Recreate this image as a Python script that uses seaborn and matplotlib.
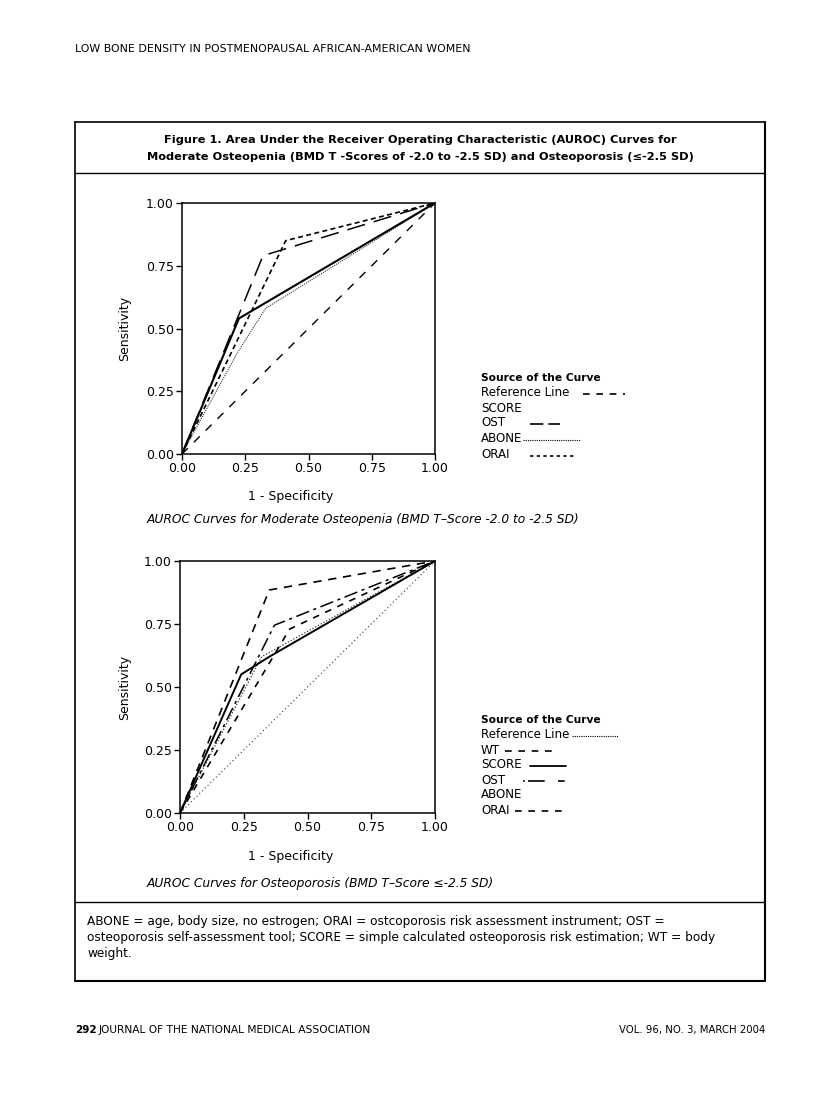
import matplotlib
matplotlib.use("Agg")
import matplotlib.pyplot as plt
from matplotlib.lines import Line2D
import seaborn as sns

# --- data (1 - specificity, sensitivity) ---
ticks = [0.0, 0.25, 0.5, 0.75, 1.0]
tick_labels = ["0.00", "0.25", "0.50", "0.75", "1.00"]

# panel A: moderate osteopenia
a_ref_x = [0.0, 1.0]
a_ref_y = [0.0, 1.0]
a_score_x = [0.0, 0.225, 1.0]
a_score_y = [0.0, 0.54, 1.0]
a_ost_x = [0.0, 0.32, 1.0]
a_ost_y = [0.0, 0.79, 1.0]
a_abone_x = [0.0, 0.217, 0.33, 1.0]
a_abone_y = [0.0, 0.40, 0.58, 1.0]
a_orai_x = [0.0, 0.41, 1.0]
a_orai_y = [0.0, 0.85, 1.0]

# panel B: osteoporosis
b_ref_x = [0.0, 1.0]
b_ref_y = [0.0, 1.0]
b_wt_x = [0.0, 0.35, 1.0]
b_wt_y = [0.0, 0.885, 1.0]
b_score_x = [0.0, 0.24, 0.35, 1.0]
b_score_y = [0.0, 0.55, 0.62, 1.0]
b_ost_x = [0.0, 0.37, 1.0]
b_ost_y = [0.0, 0.745, 1.0]
b_abone_x = [0.0, 0.32, 1.0]
b_abone_y = [0.0, 0.62, 1.0]
b_orai_x = [0.0, 0.43, 1.0]
b_orai_y = [0.0, 0.73, 1.0]

sns.set_theme(style="white")
plt.rcParams["font.family"] = ["DejaVu Sans"]
plt.rcParams["text.color"] = "black"
plt.rcParams["axes.labelcolor"] = "black"

W, H = 816, 1103
fig = plt.figure(figsize=(W / 100, H / 100), dpi=100)
fig.patch.set_facecolor("white")


def fx(x):
    return x / W


def fy(y):
    return 1 - y / H


def hline(x0, x1, y, lw=1.0, **kw):
    fig.add_artist(Line2D([fx(x0), fx(x1)], [fy(y), fy(y)], color="black", lw=lw, **kw))


def vline(x, y0, y1, lw=1.0):
    fig.add_artist(Line2D([fx(x), fx(x)], [fy(y0), fy(y1)], color="black", lw=lw))


def curve(ax, xs, ys, ls, lw, color="black"):
    sns.lineplot(x=xs, y=ys, ax=ax, color=color, lw=lw, linestyle=ls,
                 sort=False, estimator=None)


def style_axes(ax, xlab_pos, ylab_pos):
    ax.set_xlim(0, 1)
    ax.set_ylim(0, 1)
    ax.set_xticks(ticks)
    ax.set_yticks(ticks)
    ax.set_xticklabels(tick_labels)
    ax.set_yticklabels(tick_labels)
    ax.tick_params(direction="out", length=4, width=1, colors="black",
                   labelsize=9, pad=2, left=True, bottom=True)
    for s in ax.spines.values():
        s.set_visible(True)
        s.set_color("black")
        s.set_linewidth(1.1)
    ax.set_xlabel("1 - Specificity", fontsize=9)
    ax.set_ylabel("Sensitivity", fontsize=9)
    ax.xaxis.set_label_coords(xlab_pos, -0.145)
    ax.yaxis.set_label_coords(ylab_pos, 0.5)
    ax.set_facecolor("white")


# page header / frame
fig.text(fx(75), fy(49), "LOW BONE DENSITY IN POSTMENOPAUSAL AFRICAN-AMERICAN WOMEN",
         fontsize=7.9, va="center", ha="left")
hline(75, 765, 122, lw=1.2)
hline(75, 765, 173, lw=1.0)
hline(75, 765, 902, lw=1.0)
hline(75, 765, 981, lw=1.5)
vline(75, 122, 981, lw=1.2)
vline(765, 122, 981, lw=1.5)

fig.text(fx(420), fy(140),
         "Figure 1. Area Under the Receiver Operating Characteristic (AUROC) Curves for",
         fontsize=8.2, fontweight="bold", ha="center", va="center")
fig.text(fx(420), fy(157),
         "Moderate Osteopenia (BMD T -Scores of -2.0 to -2.5 SD) and Osteoporosis (\u2264-2.5 SD)",
         fontsize=8.2, fontweight="bold", ha="center", va="center")

# ---- panel A ----
axA = fig.add_axes([fx(182), fy(454), 253 / W, 251 / H])
curve(axA, a_ref_x, a_ref_y, (0, (6, 6)), 1.0)
curve(axA, a_abone_x, a_abone_y, (0, (1, 1)), 0.8, color="#333333")
curve(axA, a_score_x, a_score_y, "-", 1.5)
curve(axA, a_ost_x, a_ost_y, (0, (12, 6)), 1.1)
curve(axA, a_orai_x, a_orai_y, (0, (3, 2)), 1.2)
style_axes(axA, 0.43, -0.20)
fig.text(fx(147), fy(520),
         "AUROC Curves for Moderate Osteopenia (BMD T\u2013Score -2.0 to -2.5 SD)",
         fontsize=8.8, style="italic", ha="left", va="center")

fig.text(fx(481), fy(378), "Source of the Curve", fontsize=7.7, fontweight="bold", va="center")
for lab, yy in zip(["Reference Line", "SCORE", "OST", "ABONE", "ORAI"], [393, 408, 423, 439, 455]):
    fig.text(fx(481), fy(yy), lab, fontsize=8.6, va="center")
hline(583, 625, 394, lw=1.2, linestyle=(0, (4, 4)))
hline(530, 560, 424, lw=1.2, linestyle=(0, (8, 3)))
hline(523, 580, 440, lw=0.8, linestyle=(0, (1, 1)))
hline(530, 575, 456, lw=1.2, linestyle=(0, (2, 2)))

# ---- panel B ----
axB = fig.add_axes([fx(180), fy(813), 255 / W, 252 / H])
curve(axB, b_ref_x, b_ref_y, (0, (1, 2.5)), 0.8, color="#333333")
curve(axB, b_abone_x, b_abone_y, (0, (1, 1.5)), 0.9, color="#333333")
curve(axB, b_score_x, b_score_y, "-", 1.4)
curve(axB, b_ost_x, b_ost_y, (0, (9, 3, 2, 3)), 1.1)
curve(axB, b_wt_x, b_wt_y, (0, (5, 4)), 1.2)
curve(axB, b_orai_x, b_orai_y, (0, (4, 4)), 1.2)
style_axes(axB, 0.435, -0.19)
fig.text(fx(147), fy(883),
         "AUROC Curves for Osteoporosis (BMD T\u2013Score \u2264-2.5 SD)",
         fontsize=8.8, style="italic", ha="left", va="center")

fig.text(fx(481), fy(720), "Source of the Curve", fontsize=7.7, fontweight="bold", va="center")
for lab, yy in zip(["Reference Line", "WT", "SCORE", "OST", "ABONE", "ORAI"],
                   [735, 750, 765, 780, 795, 810]):
    fig.text(fx(481), fy(yy), lab, fontsize=8.6, va="center")
hline(572, 618, 736, lw=0.8, linestyle=(0, (1, 1)))
hline(505, 552, 751, lw=1.2, linestyle=(0, (4, 4)))
hline(530, 566, 766, lw=1.3)
hline(523, 566, 781, lw=1.2, linestyle=(0, (1, 2, 10, 8, 4, 2, 4, 2)))
hline(515, 568, 811, lw=1.2, linestyle=(0, (4, 4)))

# footnote
for line, yy in zip([
        "ABONE = age, body size, no estrogen; ORAI = ostcoporosis risk assessment instrument; OST =",
        "osteoporosis self-assessment tool; SCORE = simple calculated osteoporosis risk estimation; WT = body",
        "weight."], [921, 938, 954]):
    fig.text(fx(87), fy(yy), line, fontsize=8.75, va="center", ha="left")

# page footer
fig.text(fx(75), fy(1030), "292", fontsize=7.5, fontweight="bold", va="center", ha="left")
fig.text(fx(99), fy(1030), "JOURNAL OF THE NATIONAL MEDICAL ASSOCIATION", fontsize=7.7,
         va="center", ha="left")
fig.text(fx(765), fy(1030), "VOL. 96, NO. 3, MARCH 2004", fontsize=7.3, va="center", ha="right")

fig.savefig("out.png", dpi=100, facecolor="white")
